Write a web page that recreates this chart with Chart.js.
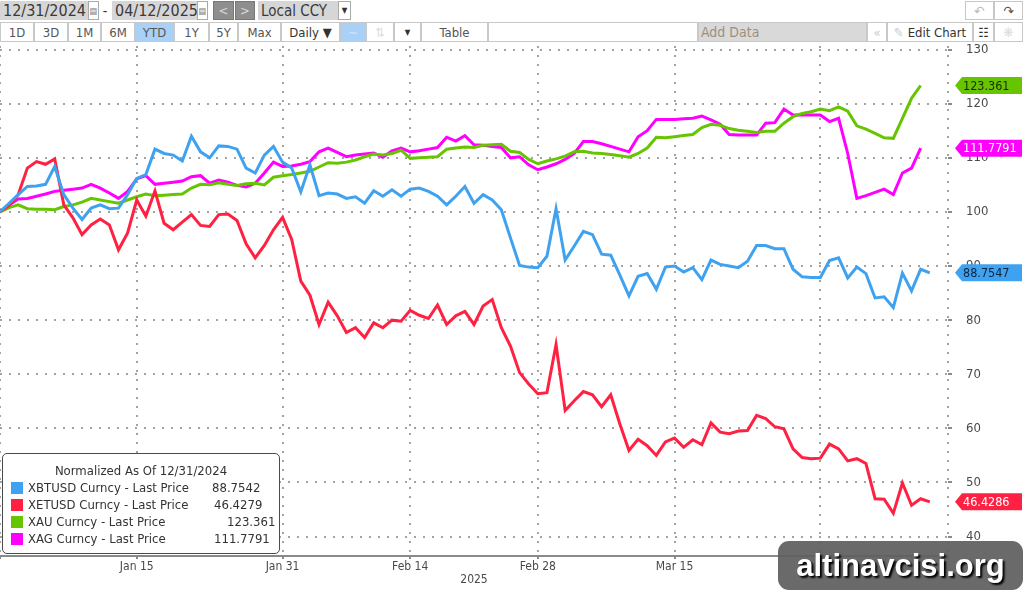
<!DOCTYPE html>
<html>
<head>
<meta charset="utf-8">
<script src="https://cdn.jsdelivr.net/npm/chart.js@4.4.0/dist/chart.umd.min.js"></script>
<style>
  html, body { margin: 0; padding: 0; background: #fff; }
  body { width: 1024px; height: 592px; position: relative; overflow: hidden;
         font-family: "DejaVu Sans Condensed", "DejaVu Sans", sans-serif; color: #333; }
  .b { position: absolute; box-sizing: border-box; display: flex; align-items: center;
       justify-content: center; white-space: nowrap; }
  .r1 { top: 1px; height: 19px; }
  .r2 { top: 22px; height: 20px; border: 1px solid #c8c8c8; background: #fff; font-size: 13px; color: #555; }
  .fld { background: #d6d6d6; font-size: 16px; color: #3a3a3a; justify-content: flex-start; padding-left: 3px; }
  .ico { background: #fff; border: 1px solid #aaa; font-size: 9px; color: #777; }
  .nav { background: #8e8e8e; color: #d8d8d8; font-size: 13px; border: 1px solid #777; }
  .sel { background: #a9d1f7; }
  #wrap { position: absolute; left: 0; top: 42px; width: 1024px; height: 550px; }
  #legend { position: absolute; left: 2px; top: 453px; width: 278px; height: 101px; box-sizing: border-box;
            border: 1.5px solid #4a4a4a; border-radius: 5px; background: #fff; font-size: 13px; color: #333; }
  #legend .ttl { position: absolute; left: 0; right: 0; top: 9px; text-align: center; line-height: 16px; }
  #legend .row { position: absolute; left: 0; right: 0; height: 16px; line-height: 16px; }
  #legend .sw { position: absolute; left: 8px; top: 2px; width: 12px; height: 12px; }
  #legend .nm { position: absolute; left: 25px; }
  #legend .val { position: absolute; }
  #wm { position: absolute; left: 778px; top: 541px; width: 245px; height: 49px; border-radius: 11px;
        background: rgba(95, 95, 95, 0.93); color: #fff; font-family: "Liberation Sans", Arial, sans-serif;
        font-weight: bold; font-size: 31px; display: flex; align-items: center; justify-content: center;
        text-shadow: 2px 2px 2px #000; }
</style>
</head>
<body>
<!-- toolbar row 1 -->
<div class="b r1 fld" style="left:0;width:88px">12/31/2024</div>
<div class="b r1 ico" style="left:88px;width:11px">&#9636;</div>
<div class="b r1" style="left:100px;width:10px;font-size:14px">-</div>
<div class="b r1 fld" style="left:112px;width:85px">04/12/2025</div>
<div class="b r1 ico" style="left:197px;width:11px">&#9636;</div>
<div class="b r1 nav" style="left:213px;width:21px">&lt;</div>
<div class="b r1 nav" style="left:235px;width:20px">&gt;</div>
<div class="b r1 fld" style="left:258px;width:80px;font-size:15px">Local CCY</div>
<div class="b r1 ico" style="left:338px;width:13px;font-size:8px;color:#333">&#9660;</div>
<div class="b r1" style="left:965px;width:29px;border:1px solid #c8c8c8;color:#bbb;font-size:14px">&#8630;</div>
<div class="b r1" style="left:994px;width:29px;border:1px solid #c8c8c8;color:#555;font-size:14px">&#8631;</div>
<!-- toolbar row 2 -->
<div class="b r2" style="left:0;width:34px">1D</div>
<div class="b r2" style="left:34px;width:34px">3D</div>
<div class="b r2" style="left:68px;width:33px">1M</div>
<div class="b r2" style="left:101px;width:34px">6M</div>
<div class="b r2 sel" style="left:135px;width:39px">YTD</div>
<div class="b r2" style="left:174px;width:35px">1Y</div>
<div class="b r2" style="left:209px;width:29px">5Y</div>
<div class="b r2" style="left:238px;width:43px">Max</div>
<div class="b r2" style="left:281px;width:59px;color:#333">Daily &#9660;</div>
<div class="b r2 sel" style="left:340px;width:26px;color:#d0e6fb">&#8764;</div>
<div class="b r2" style="left:366px;width:28px;color:#ddd">&#8645;</div>
<div class="b r2" style="left:394px;width:27px;font-size:8px;color:#333">&#9660;</div>
<div class="b r2" style="left:421px;width:67px">Table</div>
<div class="b r2" style="left:488px;width:210px"></div>
<div class="b r2" style="left:698px;width:169px;background:#d9d9d9;color:#a08e7c;justify-content:flex-start;padding-left:2px;font-size:14px">Add Data</div>
<div class="b r2" style="left:867px;width:20px;color:#ccc">&laquo;</div>
<div class="b r2" style="left:887px;width:86px;color:#333"><span style="color:#ccc;margin-right:4px">&#9998;</span>Edit Chart</div>
<div class="b r2" style="left:973px;width:21px;color:#333">&#9783;</div>
<div class="b r2" style="left:994px;width:29px;color:#ddd">&#10059;</div>

<div id="wrap"><canvas id="chart" width="1024" height="550"></canvas></div>
<div id="legend"><div class="ttl">Normalized As Of 12/31/2024</div></div>
<div id="wm">altinavcisi.org</div>

<script>
// values are normalised to 100 on 12/31/2024, one entry per calendar day
const seriesNames = ['XBTUSD Curncy - Last Price', 'XETUSD Curncy - Last Price', 'XAU Curncy - Last Price', 'XAG Curncy - Last Price'];
const legendValues = ['88.7542', '46.4279', '123.361', '111.7791'];
const tagTexts = ['88.7547', '46.4286', '123.361', '111.7791'];
const colors = ['#3fa2f0', '#ff2142', '#66c400', '#ff00ff'];

const xbt = [
  100, 101.6, 103.2, 104.7, 104.8, 105.1, 108.4, 103.2, 100.7, 98.6,
  100.7, 101.3, 100.6, 100.7, 103.2, 106.2, 106.9, 111.6, 110.8, 110.5,
  109.4, 114.0, 111.1, 110.0, 112.2, 112.1, 111.6, 108.1, 107.2, 110.5,
  112.1, 109.2, 108.1, 103.7, 108.7, 103.0, 103.5, 103.3, 102.5, 102.8,
  101.6, 103.9, 102.9, 104.1, 102.9, 104.2, 104.4, 103.8, 102.9, 101.3,
  102.9, 104.7, 101.6, 103.2, 102.2, 100.4, 95.2, 90.1, 89.8, 89.7,
  91.8, 100.6, 91.1, 93.7, 96.4, 95.8, 92.2, 92.0, 88.3, 84.5,
  88.1, 88.6, 85.7, 89.8, 90.0, 88.9, 89.7, 87.5, 91.1, 90.3,
  90.0, 89.7, 90.9, 93.8, 93.8, 93.2, 93.2, 89.4, 88.0, 87.9,
  87.9, 91.0, 91.5, 87.8, 89.8, 88.6, 84.1, 84.3, 82.3, 88.7,
  85.4, 89.4, 88.75
];
const xet = [
  100, 101.2, 103.2, 108.1, 109.3, 108.8, 109.8, 101.3, 98.9, 95.8,
  97.6, 98.7, 97.6, 93.0, 96.1, 102.2, 99.2, 103.9, 97.9, 96.7,
  98.1, 99.5, 97.5, 97.3, 99.5, 99.6, 98.4, 94.1, 91.5, 93.8,
  96.7, 99.0, 94.9, 87.2, 84.6, 79.2, 83.3, 80.8, 77.7, 78.6,
  76.8, 79.5, 78.6, 80.0, 79.8, 81.8, 80.9, 80.3, 82.8, 79.2,
  80.8, 81.6, 79.2, 82.6, 83.8, 78.6, 75.2, 70.3, 68.2, 66.4,
  66.6, 75.5, 63.3, 65.1, 66.8, 66.2, 64.0, 66.2, 60.8, 55.9,
  58.0, 56.8, 55.0, 57.5, 58.2, 56.5, 57.9, 57.0, 61.0, 59.3,
  59.0, 59.5, 59.6, 62.4, 61.8, 60.3, 59.9, 56.2, 54.6, 54.4,
  54.5, 57.1, 56.2, 54.0, 54.4, 53.5, 47.0, 46.9, 44.3, 49.9,
  45.8, 47.0, 46.43
];
const xau = [
  100, 100.8, 101.3, 100.6, 100.5, 100.5, 100.4, 101.0, 101.3, 101.8,
  102.5, 102.2, 101.9, 101.6, 102.2, 102.8, 103.3, 103.0, 103.1, 103.2,
  103.3, 104.4, 105.1, 105.0, 105.4, 105.1, 104.9, 105.2, 105.3, 105.0,
  106.4, 106.7, 106.9, 107.2, 107.5, 108.3, 109.1, 109.0, 109.2, 109.6,
  110.2, 110.7, 110.5, 110.8, 111.4, 109.9, 110.0, 110.1, 110.2, 111.6,
  111.8, 112.0, 111.9, 112.3, 112.4, 112.5, 111.2, 111.0, 109.7, 108.9,
  109.4, 109.8, 110.3, 111.1, 111.2, 110.9, 110.8, 110.6, 110.4, 110.1,
  110.8, 111.8, 113.8, 113.7, 113.9, 114.1, 114.3, 115.6, 116.2, 116.0,
  115.4, 115.1, 114.9, 114.7, 114.9, 114.9, 116.4, 117.6, 118.2, 118.5,
  119.0, 118.7, 119.4, 118.6, 115.9, 115.3, 114.5, 113.7, 113.6, 117.3,
  121.0, 123.361
];
const xag = [
  100, 101.3, 102.4, 102.5, 102.9, 103.3, 103.8, 104.0, 104.2, 104.4,
  105.1, 104.4, 103.5, 102.5, 103.8, 106.1, 106.7, 105.1, 105.3, 105.5,
  105.7, 106.5, 106.7, 105.3, 105.9, 105.5, 104.9, 104.6, 105.3, 107.2,
  109.2, 108.4, 108.5, 108.8, 109.3, 111.1, 111.8, 111.0, 110.2, 110.5,
  110.7, 110.9, 110.1, 111.3, 111.8, 111.1, 111.3, 111.6, 111.9, 113.8,
  113.1, 114.1, 112.4, 112.3, 112.1, 111.9, 110.0, 110.2, 108.7, 107.8,
  108.3, 108.9, 109.7, 110.8, 113.0, 113.0, 112.6, 112.1, 111.6, 111.1,
  113.9, 115.0, 117.1, 117.1, 117.1, 117.2, 117.3, 117.7, 117.0, 116.2,
  114.3, 114.2, 114.2, 114.2, 116.4, 116.5, 119.0, 117.9, 117.9, 117.9,
  117.9, 116.7, 117.3, 110.8, 102.5, 103.0, 103.6, 104.2, 103.2, 107.2,
  108.1, 111.7791
];

// x axis: days since 12/31/2024
const tickDays = [0, 15, 31, 45, 59, 74, 90, 104];
const tickLabels = ['', 'Jan 15', 'Jan 31', 'Feb 14', 'Feb 28', 'Mar 15', 'Mar 31', ''];
const yTicks = [40, 50, 60, 70, 80, 90, 100, 110, 120, 130];

const allSeries = [xbt, xet, xau, xag];
const tagTextColors = ['#10243a', '#ffffff', '#1c2c00', '#ffffff'];

// legend box
const legend = document.getElementById('legend');
const valueLeft = [209, 211, 224, 211];
seriesNames.forEach((name, i) => {
  const row = document.createElement('div');
  row.className = 'row';
  row.style.top = (26 + i * 17) + 'px';
  row.innerHTML = `<span class="sw" style="background:${colors[i]}"></span><span class="nm">${name}</span>` +
    `<span class="val" style="left:${valueLeft[i]}px">${legendValues[i]}</span>`;
  legend.appendChild(row);
});

// solid bottom axis line (grid dash would otherwise apply to it)
const axisLine = {
  id: 'axisLine',
  beforeDatasetsDraw(chart) {
    const { ctx, chartArea } = chart;
    ctx.save();
    ctx.strokeStyle = '#8a8a8a';
    ctx.lineWidth = 2;
    ctx.beginPath();
    ctx.moveTo(chartArea.left, chartArea.bottom + 1);
    ctx.lineTo(chartArea.right, chartArea.bottom + 1);
    ctx.stroke();
    ctx.restore();
  }
};

// last value tags on the right axis
const tagPlugin = {
  id: 'tags',
  afterDraw(chart) {
    const ctx = chart.ctx;
    const y = chart.scales.y;
    ctx.save();
    ctx.font = '12.5px "DejaVu Sans Condensed", "DejaVu Sans", sans-serif';
    ctx.textBaseline = 'middle';
    allSeries.forEach((vals, i) => {
      const py = y.getPixelForValue(vals[vals.length - 1]);
      const h = 8.5;
      ctx.fillStyle = colors[i];
      ctx.beginPath();
      ctx.moveTo(955, py);
      ctx.lineTo(962, py - h);
      ctx.lineTo(1022, py - h);
      ctx.lineTo(1022, py + h);
      ctx.lineTo(962, py + h);
      ctx.closePath();
      ctx.fill();
      ctx.fillStyle = tagTextColors[i];
      ctx.textAlign = 'left';
      ctx.fillText(tagTexts[i], 963, py + 1);
    });
    ctx.restore();
  }
};

const fontFamily = '"DejaVu Sans Condensed", "DejaVu Sans", sans-serif';
const gridOpts = { color: '#a3a3a3', lineWidth: 2, tickLength: 4, tickColor: '#8a8a8a' };
const dots = [2, 7];

new Chart(document.getElementById('chart'), {
  type: 'line',
  data: {
    datasets: allSeries.map((vals, i) => ({
      label: seriesNames[i],
      data: vals.map((v, d) => ({ x: d, y: v })),
      borderColor: colors[i],
      backgroundColor: colors[i],
      borderWidth: 3,
      pointRadius: 0,
      tension: 0,
      fill: false
    }))
  },
  options: {
    responsive: false,
    animation: false,
    layout: { padding: { top: 4, left: 0, right: 0, bottom: 0 } },
    plugins: { legend: { display: false }, tooltip: { enabled: false } },
    scales: {
      x: {
        type: 'linear',
        min: 0,
        max: 104,
        afterBuildTicks: s => { s.ticks = tickDays.map(v => ({ value: v })); },
        afterFit: s => { s.height = 37; s.paddingLeft = 0; s.paddingRight = 0; },
        ticks: {
          autoSkip: false,
          maxRotation: 0,
          padding: 1,
          color: '#4a4a4a',
          font: { family: fontFamily, size: 12 },
          callback: (v) => tickLabels[tickDays.indexOf(v)]
        },
        grid: gridOpts,
        border: { display: false, dash: dots },
        title: {
          display: true,
          text: '2025',
          color: '#4a4a4a',
          font: { family: fontFamily, size: 12 },
          padding: { top: 0, bottom: 5 }
        }
      },
      y: {
        position: 'right',
        min: 36.6,
        max: 130.66,
        afterBuildTicks: s => { s.ticks = yTicks.map(v => ({ value: v })); },
        afterFit: s => { s.width = 76; s.paddingTop = 0; s.paddingBottom = 0; },
        ticks: {
          padding: 14,
          color: '#4a4a4a',
          font: { family: fontFamily, size: 13 }
        },
        grid: gridOpts,
        border: { display: false, dash: dots }
      }
    }
  },
  plugins: [axisLine, tagPlugin]
});
</script>
</body>
</html>
